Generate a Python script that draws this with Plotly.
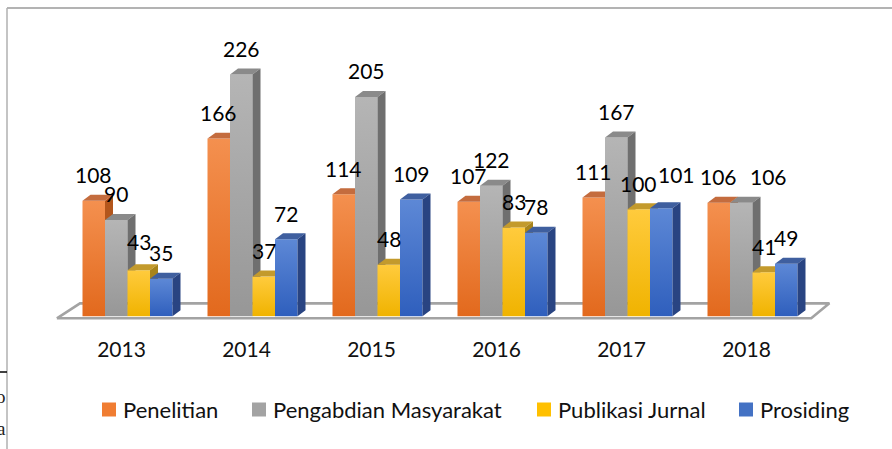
import plotly.graph_objects as go

# ---------------- data ----------------
years = ["2013", "2014", "2015", "2016", "2017", "2018"]
series_names = ["Penelitian", "Pengabdian Masyarakat", "Publikasi Jurnal", "Prosiding"]
penelitian = [108, 166, 114, 107, 111, 106]
pengabdian = [90, 226, 205, 122, 167, 106]
publikasi_jurnal = [43, 37, 48, 83, 100, 41]
prosiding = [35, 72, 109, 78, 101, 49]
series_values = [penelitian, pengabdian, publikasi_jurnal, prosiding]

# ---------------- styles ----------------
front_top = ["#f4904f", "#b5b5b5", "#ffcb3d", "#5d88d6"]
front_bot = ["#e2691d", "#979797", "#f0b300", "#2f5fbd"]
top_col = ["#c46c3e", "#8a8a8a", "#c39a2c", "#3f5f9f"]
side_col = ["#b3561c", "#6f6f6f", "#a8841a", "#294482"]
legend_col = ["#f07d32", "#a3a3a3", "#ffc000", "#4472c4"]
# label nudges (px) where the original chart moved labels apart: (series, year) -> (dx, dy)
label_nudge = {(3, 4): (15, 8), (1, 5): (27, 0), (2, 0): (0, 3)}

BAR_W = 0.18
DX = 0.064
DY = 5.6
FONT = "Lato"

W, H = 892, 449
L, R, T, B = 50, 52, 6, 120
pw, ph = W - L - R, H - T - B


def px(xp):
    return (xp - L) / pw


def py(yp):
    return (H - B - yp) / ph


fig = go.Figure()

# floor
n = len(years)
fig.add_trace(go.Scatter(
    x=[-0.565, n - 1 + 0.47, n - 1 + 0.615, -0.38, -0.565],
    y=[-2.0, -2.0, 12.0, 12.0, -2.0],
    mode="lines", fill="toself", fillcolor="white",
    line=dict(color="#a3a3a3", width=2.6),
    hoverinfo="skip", showlegend=False))

for s, vals in enumerate(series_values):
    tops_x, tops_y, sides_x, sides_y = [], [], [], []
    for i, v in enumerate(vals):
        x0 = i + (s - 2) * BAR_W
        x1 = x0 + BAR_W
        fig.add_trace(go.Scatter(
            x=[x0, x1, x1, x0, x0], y=[0, 0, v, v, 0],
            mode="lines", fill="toself", line=dict(width=0),
            fillcolor=front_bot[s],
            fillgradient=dict(type="vertical",
                              colorscale=[[0, front_bot[s]], [1, front_top[s]]]),
            hoverinfo="skip", showlegend=False))
        tops_x += [x0, x1, x1 + DX, x0 + DX, x0, None]
        tops_y += [v, v, v + DY, v + DY, v, None]
        sides_x += [x1, x1 + DX, x1 + DX, x1, x1, None]
        sides_y += [0, DY, v + DY, v, 0, None]
    fig.add_trace(go.Scatter(x=tops_x, y=tops_y, mode="lines", fill="toself",
                             fillcolor=top_col[s], line=dict(width=0),
                             hoverinfo="skip", showlegend=False))
    fig.add_trace(go.Scatter(x=sides_x, y=sides_y, mode="lines", fill="toself",
                             fillcolor=side_col[s], line=dict(width=0),
                             hoverinfo="skip", showlegend=False))

# data labels
for s, vals in enumerate(series_values):
    for i, v in enumerate(vals):
        xc = i + (s - 2) * BAR_W + BAR_W / 2
        ndx, ndy = label_nudge.get((s, i), (0, 0))
        fig.add_annotation(x=xc, y=v, text=str(v), showarrow=False,
                           yanchor="middle", xshift=ndx, yshift=26 + ndy,
                           font=dict(family=FONT, size=21, color="#000000"))

# legend (drawn as squares + text to follow the original spacing)
legend_left_px = [102, 252, 537, 739]
shapes = []
for s, name in enumerate(series_names):
    x_l = legend_left_px[s]
    shapes.append(dict(type="rect", xref="paper", yref="paper",
                       x0=px(x_l), x1=px(x_l + 14), y0=py(402.5), y1=py(416.5),
                       fillcolor=legend_col[s], line=dict(width=0)))
    fig.add_annotation(xref="paper", yref="paper", x=px(x_l + 19), y=py(409.5),
                       text=name, showarrow=False, xanchor="left", yanchor="middle",
                       font=dict(family=FONT, size=22, color="#111111"))

# frame artefacts from the source document
shapes += [
    dict(type="line", xref="paper", yref="paper", x0=px(7), x1=px(892), y0=py(8), y1=py(8),
         line=dict(color="#9a9a9a", width=1.5)),
    dict(type="line", xref="paper", yref="paper", x0=px(7), x1=px(7), y0=py(8), y1=py(449),
         line=dict(color="#b0b0b0", width=1.5)),
    dict(type="line", xref="paper", yref="paper", x0=px(0), x1=px(7), y0=py(372), y1=py(372),
         line=dict(color="#000000", width=1.5)),
]
fig.add_annotation(xref="paper", yref="paper", x=px(8), y=py(396), text="o", showarrow=False,
                   xanchor="right", yanchor="middle",
                   font=dict(family="Liberation Serif", size=19, color="#222"))
fig.add_annotation(xref="paper", yref="paper", x=px(8), y=py(428), text="a", showarrow=False,
                   xanchor="right", yanchor="middle",
                   font=dict(family="Liberation Serif", size=19, color="#222"))

fig.update_layout(
    width=W, height=H,
    margin=dict(l=L, r=R, t=T, b=B),
    paper_bgcolor="white", plot_bgcolor="white",
    shapes=shapes,
    showlegend=False,
    xaxis=dict(range=[-0.62, 5.7], tickvals=list(range(n)), ticktext=years,
               showgrid=False, zeroline=False, showline=False, ticks="",
               ticklabelshift=-6, ticklabelstandoff=6,
               tickfont=dict(family=FONT, size=21, color="#111")),
    yaxis=dict(range=[-12, 290], visible=False, showgrid=False, zeroline=False),
)

fig.write_html("out.html", config={"displayModeBar": False},
               post_script="document.body.style.margin='0px';")
